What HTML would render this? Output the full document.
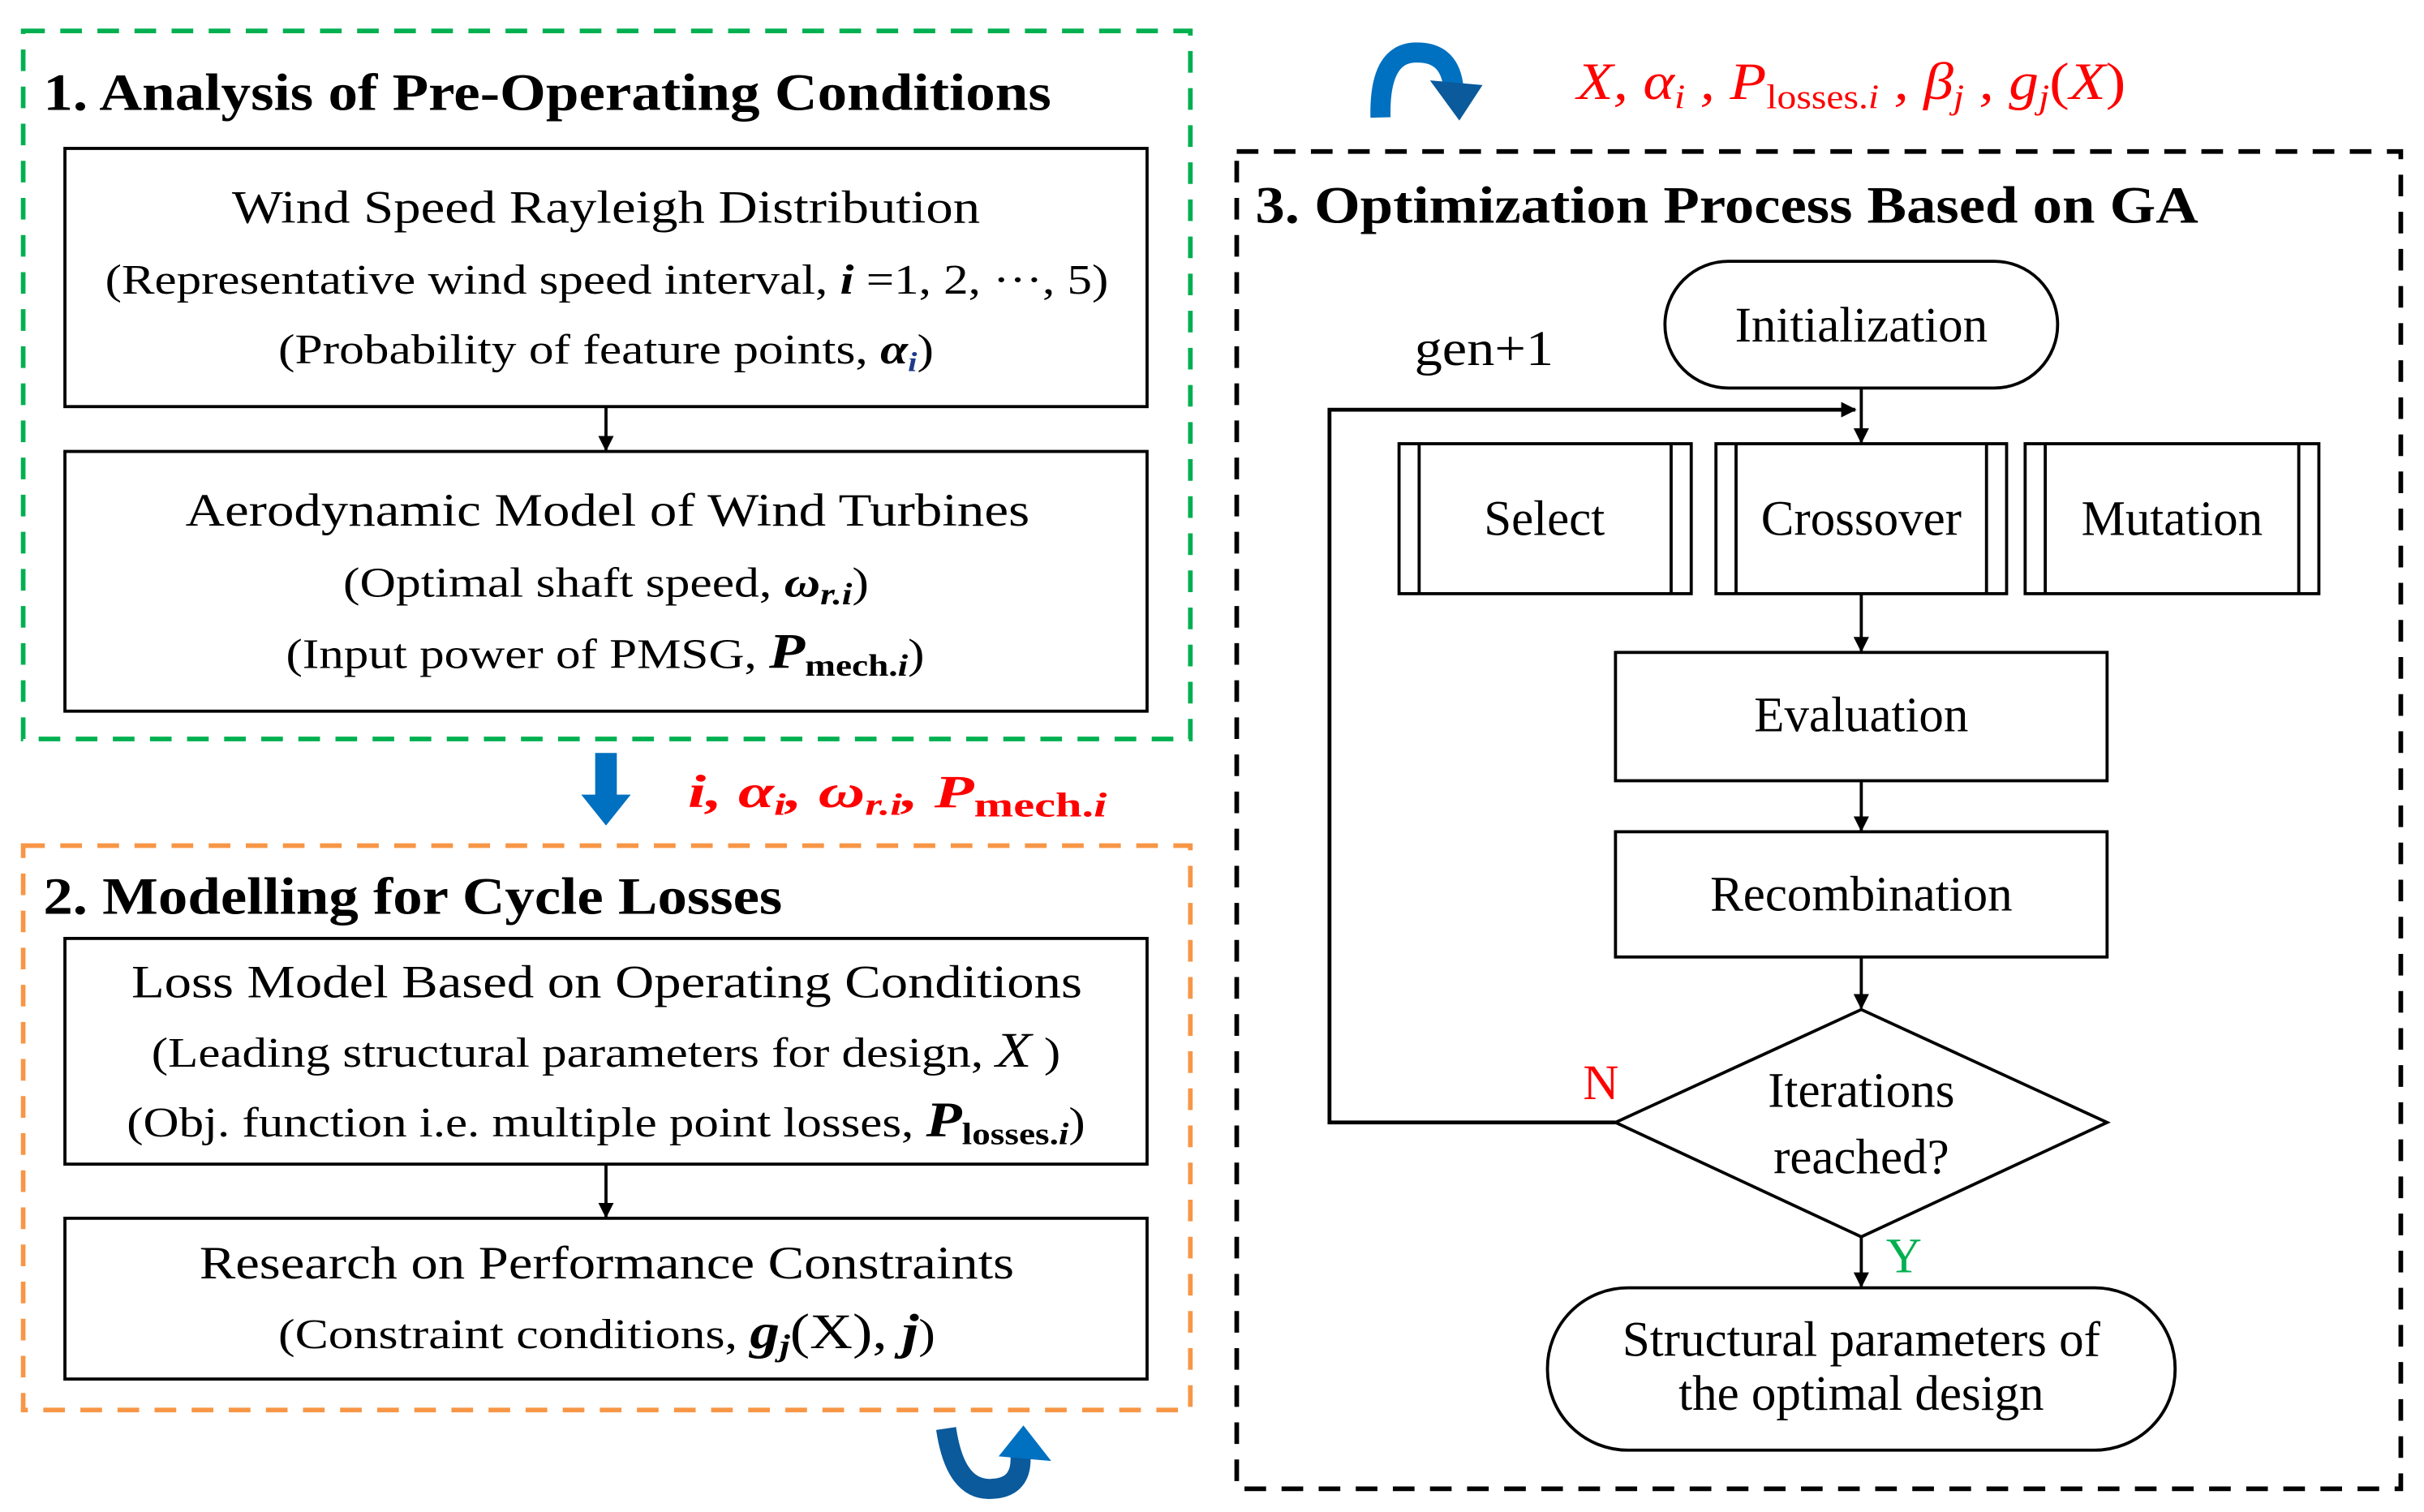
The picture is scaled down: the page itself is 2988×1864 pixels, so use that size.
<!DOCTYPE html>
<html><head><meta charset="utf-8"><style>
html,body{margin:0;padding:0;background:#fff;}
svg{display:block;font-family:"Liberation Serif","Times New Roman",Times,serif;}
text{font-family:"Liberation Serif","Times New Roman",Times,serif;}
</style></head><body>
<svg width="2988" height="1864" viewBox="0 0 1568 978" preserveAspectRatio="none" xmlns="http://www.w3.org/2000/svg" font-family="Liberation Serif, Times New Roman, serif">
<defs>
<marker id="ah" markerWidth="10" markerHeight="12" refX="9" refY="5" orient="auto" markerUnits="userSpaceOnUse">
<path d="M0,0 L10,5 L0,10 z" fill="#000"/></marker>
</defs>
<rect width="1568" height="978" fill="#fff"/>

<!-- Section 1 -->
<rect x="15" y="20" width="755" height="458" fill="none" stroke="#00b050" stroke-width="3" stroke-dasharray="14,10"/>
<text x="28" y="71" font-size="34" font-weight="bold" textLength="652" lengthAdjust="spacingAndGlyphs">1. Analysis of Pre-Operating Conditions</text>
<rect x="42" y="96" width="700" height="167" fill="none" stroke="#000" stroke-width="2"/>
<text x="150" y="144" font-size="30" textLength="484" lengthAdjust="spacingAndGlyphs">Wind Speed Rayleigh Distribution</text>
<text x="68" y="190" font-size="27" textLength="649" lengthAdjust="spacingAndGlyphs">(Representative wind speed interval, <tspan font-style="italic" font-weight="bold">i</tspan> =1, 2, ···, 5)</text>
<text x="180" y="235" font-size="27" textLength="424" lengthAdjust="spacingAndGlyphs">(Probability of feature points, <tspan font-style="italic" font-weight="bold">α</tspan><tspan font-style="italic" font-weight="bold" font-size="18" dy="5" fill="#1f3a8a">i</tspan><tspan dy="-5">)</tspan></text>
<line x1="392" y1="263" x2="392" y2="291" stroke="#000" stroke-width="2" marker-end="url(#ah)"/>
<rect x="42" y="292" width="700" height="168" fill="none" stroke="#000" stroke-width="2"/>
<text x="120" y="340" font-size="30" textLength="546" lengthAdjust="spacingAndGlyphs">Aerodynamic Model of Wind Turbines</text>
<text x="222" y="386" font-size="27" textLength="340" lengthAdjust="spacingAndGlyphs">(Optimal shaft speed, <tspan font-style="italic" font-weight="bold">ω</tspan><tspan font-style="italic" font-weight="bold" font-size="20" dy="5">r.i</tspan><tspan dy="-5">)</tspan></text>
<text x="185" y="432" font-size="27" textLength="413" lengthAdjust="spacingAndGlyphs">(Input power of PMSG, <tspan font-style="italic" font-weight="bold" font-size="32">P</tspan><tspan font-weight="bold" font-size="20" dy="5">mech.<tspan font-style="italic">i</tspan></tspan><tspan dy="-5">)</tspan></text>

<!-- blue down arrow -->
<path d="M385,487 L399,487 L399,514 L408,514 L392,534 L376,514 L385,514 z" fill="#0070c0"/>
<text x="445" y="522" font-size="30" fill="#f00" font-style="italic" font-weight="bold" textLength="271" lengthAdjust="spacingAndGlyphs">i,  α<tspan font-size="20" dy="5">i</tspan><tspan dy="-5">,  ω</tspan><tspan font-size="20" dy="5">r.i</tspan><tspan dy="-5">,  P</tspan><tspan font-size="22" dy="6" font-style="normal">mech.<tspan font-style="italic">i</tspan></tspan></text>

<!-- Section 2 -->
<rect x="15" y="547" width="755" height="365" fill="none" stroke="#f79646" stroke-width="3" stroke-dasharray="14,10"/>
<text x="28" y="591" font-size="34" font-weight="bold" textLength="478" lengthAdjust="spacingAndGlyphs">2. Modelling for Cycle Losses</text>
<rect x="42" y="607" width="700" height="146" fill="none" stroke="#000" stroke-width="2"/>
<text x="85" y="645" font-size="30" textLength="615" lengthAdjust="spacingAndGlyphs">Loss Model Based on Operating Conditions</text>
<text x="98" y="690" font-size="27" textLength="588" lengthAdjust="spacingAndGlyphs">(Leading structural parameters for design, <tspan font-style="italic" font-size="32">X</tspan> )</text>
<text x="82" y="735" font-size="27" textLength="620" lengthAdjust="spacingAndGlyphs">(Obj. function i.e. multiple point losses, <tspan font-style="italic" font-weight="bold" font-size="32">P</tspan><tspan font-weight="bold" font-size="20" dy="5">losses.<tspan font-style="italic">i</tspan></tspan><tspan dy="-5">)</tspan></text>
<line x1="392" y1="753" x2="392" y2="787" stroke="#000" stroke-width="2" marker-end="url(#ah)"/>
<rect x="42" y="788" width="700" height="104" fill="none" stroke="#000" stroke-width="2"/>
<text x="129" y="827" font-size="30" textLength="527" lengthAdjust="spacingAndGlyphs">Research on Performance Constraints</text>
<text x="180" y="872" font-size="27" textLength="425" lengthAdjust="spacingAndGlyphs">(Constraint conditions, <tspan font-style="italic" font-weight="bold" font-size="32">g</tspan><tspan font-style="italic" font-weight="bold" font-size="20" dy="5">j</tspan><tspan dy="-5" font-size="32">(X), </tspan><tspan font-style="italic" font-weight="bold" font-size="32">j</tspan>)</text>

<!-- bottom curved arrow -->
<path d="M612,924 Q618,965 642,963 Q662,962 660,940" fill="none" stroke="#0a5a9c" stroke-width="13"/>
<path d="M646,942 L662,922 L680,945 z" fill="#0070c0"/>

<!-- top curved arrow -->
<path d="M893,76 Q892,35 915,34 Q937,33 940,55" fill="none" stroke="#0070c0" stroke-width="13"/>
<path d="M925,52 L959,55 L944,78 z" fill="#0a5a9c"/>
<text x="1020" y="64" font-size="34" fill="#f00" font-style="italic" textLength="355" lengthAdjust="spacingAndGlyphs">X, α<tspan font-size="22" dy="6">i</tspan><tspan dy="-6"> , P</tspan><tspan font-size="22" dy="6" font-style="normal">losses.<tspan font-style="italic">i</tspan></tspan><tspan dy="-6"> , β</tspan><tspan font-size="22" dy="6">j</tspan><tspan dy="-6"> , g</tspan><tspan font-size="22" dy="6">j</tspan><tspan dy="-6" font-style="normal">(</tspan>X<tspan font-style="normal">)</tspan></text>

<!-- Section 3 -->
<rect x="800" y="98" width="753" height="865" fill="none" stroke="#000" stroke-width="3" stroke-dasharray="14,10"/>
<text x="812" y="144" font-size="34" font-weight="bold" textLength="610" lengthAdjust="spacingAndGlyphs">3. Optimization Process Based on GA</text>

<rect x="1077" y="169" width="254" height="82" rx="41" fill="none" stroke="#000" stroke-width="2"/>
<text x="1204" y="221" font-size="32" text-anchor="middle">Initialization</text>
<text x="915" y="236" font-size="32" textLength="90" lengthAdjust="spacingAndGlyphs">gen+1</text>

<polyline points="1045,726 860,726 860,265 1200,265" fill="none" stroke="#000" stroke-width="2.5" marker-end="url(#ah)"/>
<line x1="1204" y1="251" x2="1204" y2="286" stroke="#000" stroke-width="2" marker-end="url(#ah)"/>

<g fill="none" stroke="#000" stroke-width="2">
<rect x="905" y="287" width="189" height="97"/><line x1="918" y1="287" x2="918" y2="384"/><line x1="1081" y1="287" x2="1081" y2="384"/>
<rect x="1110" y="287" width="188" height="97"/><line x1="1123" y1="287" x2="1123" y2="384"/><line x1="1285" y1="287" x2="1285" y2="384"/>
<rect x="1310" y="287" width="190" height="97"/><line x1="1323" y1="287" x2="1323" y2="384"/><line x1="1487" y1="287" x2="1487" y2="384"/>
</g>
<text x="999" y="346" font-size="32" text-anchor="middle">Select</text>
<text x="1204" y="346" font-size="32" text-anchor="middle">Crossover</text>
<text x="1405" y="346" font-size="32" text-anchor="middle">Mutation</text>

<line x1="1204" y1="384" x2="1204" y2="421" stroke="#000" stroke-width="2" marker-end="url(#ah)"/>
<rect x="1045" y="422" width="318" height="83" fill="none" stroke="#000" stroke-width="2"/>
<text x="1204" y="473" font-size="32" text-anchor="middle">Evaluation</text>
<line x1="1204" y1="505" x2="1204" y2="537" stroke="#000" stroke-width="2" marker-end="url(#ah)"/>
<rect x="1045" y="538" width="318" height="81" fill="none" stroke="#000" stroke-width="2"/>
<text x="1204" y="589" font-size="32" text-anchor="middle">Recombination</text>
<line x1="1204" y1="619" x2="1204" y2="652" stroke="#000" stroke-width="2" marker-end="url(#ah)"/>
<polygon points="1204,653 1363,726 1204,800 1045,726" fill="none" stroke="#000" stroke-width="2"/>
<text x="1204" y="716" font-size="32" text-anchor="middle">Iterations</text>
<text x="1204" y="759" font-size="32" text-anchor="middle">reached?</text>
<text x="1024" y="711" font-size="32" fill="#f00">N</text>
<text x="1220" y="823" font-size="32" fill="#00b050">Y</text>
<line x1="1204" y1="800" x2="1204" y2="832" stroke="#000" stroke-width="2" marker-end="url(#ah)"/>
<rect x="1001" y="833" width="406" height="105" rx="52" fill="none" stroke="#000" stroke-width="2"/>
<text x="1204" y="877" font-size="32" text-anchor="middle">Structural parameters of</text>
<text x="1204" y="912" font-size="32" text-anchor="middle">the optimal design</text>
</svg>
</body></html>
